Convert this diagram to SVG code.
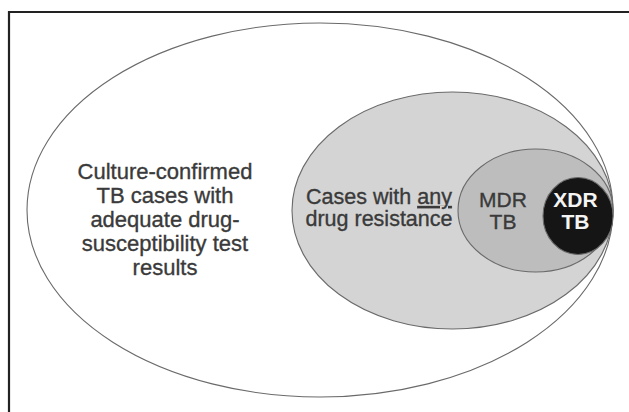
<svg xmlns="http://www.w3.org/2000/svg" width="629" height="412" viewBox="0 0 629 412">
<style>
.ell{stroke:#6a6a6a;stroke-width:1.1}
.t{font-family:"Liberation Sans",Arial,sans-serif;fill:#3a3a3a;stroke:#3a3a3a;stroke-width:0.35;text-anchor:middle}
.w{font-family:"Liberation Sans",Arial,sans-serif;fill:#f4f4f4;font-weight:bold;text-anchor:middle}
</style>
<rect width="629" height="412" fill="#fff"/>
<g id="frame">
<path d="M9 412 V12 H629" fill="none" stroke="#222" stroke-width="2.2"/>
</g>
<g id="all-cases">
<ellipse class="ell" cx="320" cy="210" rx="293" ry="187" fill="#fff"/>
<text class="t" font-size="22"><tspan x="165" y="179">Culture-confirmed</tspan><tspan x="165" y="203">TB cases with</tspan><tspan x="165" y="227">adequate drug-</tspan><tspan x="165" y="251">susceptibility test</tspan><tspan x="165" y="275">results</tspan></text>
</g>
<g id="any-resistance">
<ellipse class="ell" cx="452.5" cy="210.5" rx="160.5" ry="118.5" fill="#d4d4d4"/>
<text class="t" font-size="21.5"><tspan x="379" y="204">Cases with <tspan text-decoration="underline">any</tspan></tspan><tspan x="379" y="226">drug resistance</tspan></text>
</g>
<g id="mdr">
<ellipse class="ell" cx="535.5" cy="210.5" rx="77.5" ry="61.5" fill="#bdbdbd"/>
<text class="t" font-size="21"><tspan x="503" y="207">MDR</tspan><tspan x="503" y="229">TB</tspan></text>
</g>
<g id="xdr">
<ellipse class="ell" cx="578" cy="216" rx="35" ry="38.5" fill="#151515"/>
<text class="w" font-size="21"><tspan x="575.5" y="207">XDR</tspan><tspan x="575.5" y="229">TB</tspan></text>
</g>
</svg>
